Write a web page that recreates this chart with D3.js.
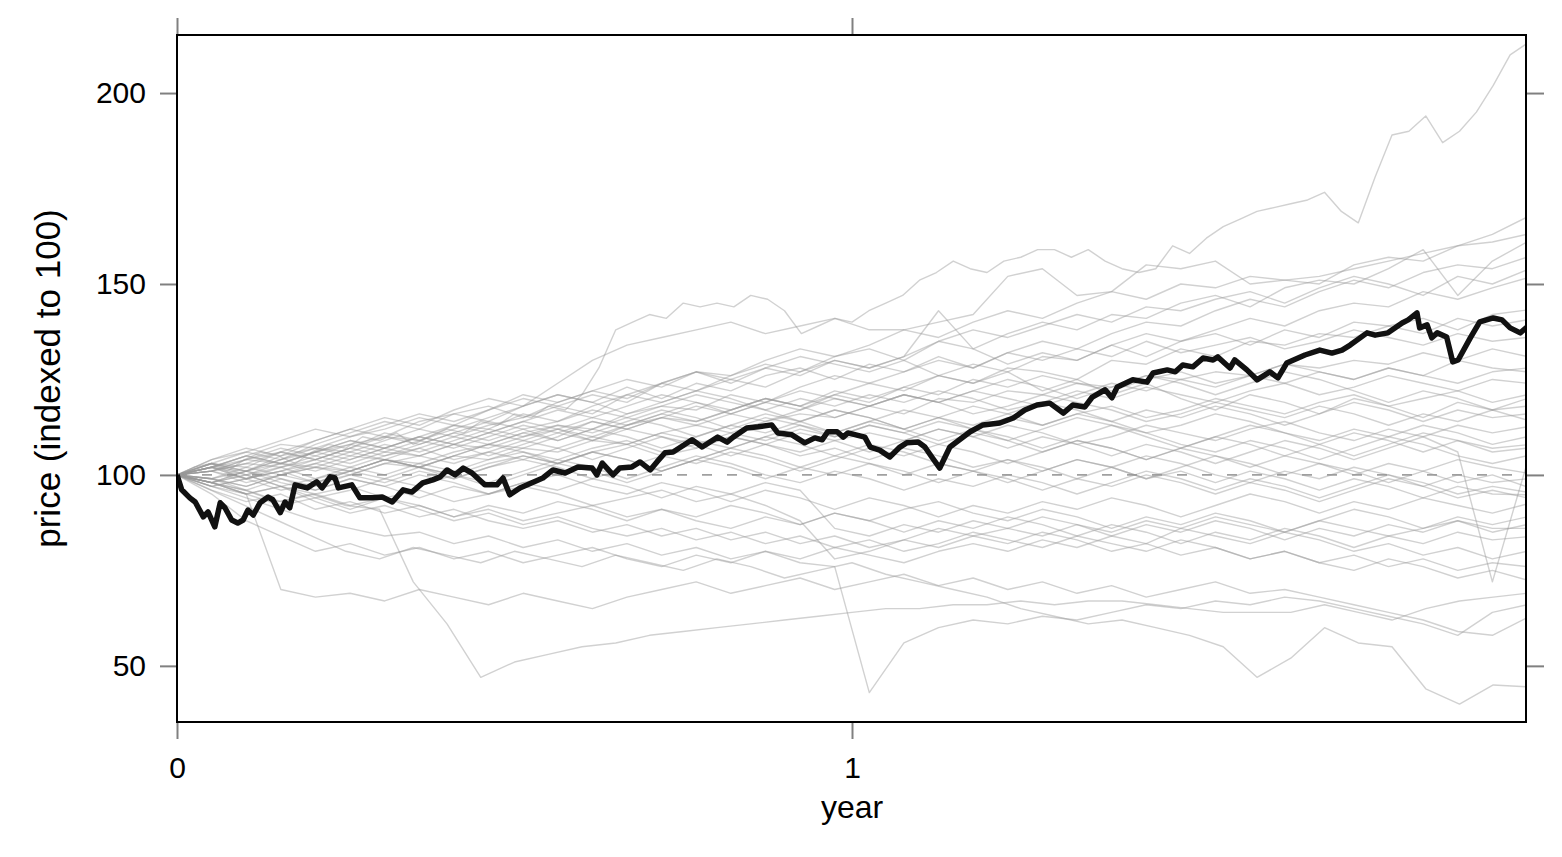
<!DOCTYPE html>
<html>
<head>
<meta charset="utf-8">
<script src="https://cdn.jsdelivr.net/npm/d3@7"></script>
<style>
  body { margin: 0; background: #fff; }
  text { font-family: "Liberation Sans", Arial, Helvetica, sans-serif; fill: #000; }
</style>
</head>
<body>
<div id="chart"></div>
<script>
// axis ticks
var xTicks = [0, 1]
var yTicks = [50, 100, 150, 200]
var xLabel = "year"
var yLabel = "price (indexed to 100)"
var baseLevel = 100

// highlighted path (read point by point)
var blackYears = [0.000,0.007,0.019,0.027,0.039,0.046,0.056,0.064,0.071,0.081,0.090,0.098,0.105,0.113,0.123,0.135,0.142,0.153,0.160,0.167,
  0.175,0.193,0.207,0.215,0.227,0.234,0.239,0.259,0.271,0.290,0.304,0.319,0.335,0.348,0.364,0.379,0.390,0.400,0.412,0.424,
  0.437,0.456,0.474,0.483,0.493,0.508,0.542,0.557,0.575,0.594,0.615,0.622,0.630,0.646,0.656,0.674,0.686,0.701,0.711,0.723,
  0.735,0.763,0.778,0.801,0.815,0.824,0.844,0.861,0.881,0.890,0.911,0.930,0.945,0.956,0.964,0.978,0.987,0.994,1.019,1.027,
  1.041,1.056,1.071,1.081,1.098,1.108,1.119,1.130,1.145,1.175,1.194,1.219,1.239,1.256,1.274,1.293,1.313,1.327,1.345,1.356,
  1.375,1.385,1.393,1.416,1.437,1.446,1.467,1.479,1.490,1.505,1.520,1.535,1.542,1.560,1.567,1.585,1.600,1.619,1.631,1.644,
  1.671,1.693,1.711,1.726,1.738,1.763,1.775,1.794,1.815,1.824,1.837,1.841,1.852,1.859,1.867,1.881,1.890,1.898,1.916,1.930,
  1.950,1.963,1.975,1.990,2.000]
var blackValues = [100.0,96.1,94.0,92.9,89.0,90.3,86.4,92.7,91.4,88.2,87.4,88.2,90.8,89.5,92.7,94.2,93.5,90.1,92.9,91.4,
  97.4,96.6,98.2,96.6,99.5,99.2,96.6,97.4,94.0,94.0,94.2,92.9,96.1,95.5,97.9,98.7,99.5,101.3,100.0,101.8,
  100.5,97.4,97.4,99.2,94.8,96.6,99.2,101.3,100.5,102.1,101.8,100.0,103.1,100.0,101.8,102.1,103.4,101.3,103.4,105.8,
  106.0,109.2,107.3,109.9,108.6,109.9,112.3,112.6,113.1,111.0,110.5,108.4,109.7,109.2,111.3,111.3,109.9,111.0,109.9,107.3,
  106.5,104.7,107.3,108.4,108.6,107.3,104.5,101.8,107.3,111.3,113.1,113.6,114.9,117.0,118.3,118.8,116.2,118.3,117.8,120.4,
  122.3,120.2,123.0,124.9,124.3,126.7,127.5,127.0,128.8,128.3,130.6,130.1,130.9,128.0,130.1,127.5,124.9,127.0,125.4,129.3,
  131.4,132.7,131.9,132.7,134.0,137.2,136.6,137.2,139.8,140.6,142.4,138.5,139.3,135.9,137.2,136.1,129.6,130.1,135.9,140.1,
  141.1,140.6,138.5,137.2,138.7]

// simulated paths, equally spaced over the two years
var simPaths = [
  [100,102,103,101,104,106,105,103,106,108, 107,110,109,111,108,110,112,111,114,113,
   116,115,118,117,121,128,138,140,142,141, 145,144,145,144,147,146,143,137,139,141,
   140,143,145,147,151,153,156,154,153,156, 157,159,159,157,159,156,154,153,154,160,
   158,162,165,167,169,170,171,172,174,169, 166,178,189,190,194,187,190,195,202,210, 213],
  [100,102,104,103,106, 108,110,109,112,115, 118,124,130,134,136, 138,140,137,139,141, 138,138,140,142,152, 154,147,148,155,154, 156,150,151,152,154, 156,158,160,163,167.5],
  [100,103,101,105,107, 106,109,112,110,113, 115,118,121,119,124, 127,126,130,133,131, 134,138,136,140,143, 141,145,148,146,150, 149,152,151,150,155, 157,156,160,161,163],
  [100,101,104,106,104, 107,111,109,113,112, 116,114,118,121,119, 122,125,123,127,130, 128,131,135,133,137, 140,138,142,141,145, 147,144,149,151,150, 154,159,147,156,161],
  [100,98,101,103,102, 105,104,107,110,108, 111,113,112,116,118, 117,121,119,123,126, 124,127,130,128,132, 135,133,137,140,139, 143,146,144,148,151, 149,153,155,154,157],
  [100,102,105,108,107, 110,112,115,113,117, 120,118,116,121,124, 122,126,129,127,131, 133,130,135,138,136, 139,142,140,144,143, 146,148,145,149,152, 150,147,152,150,153.7],
  [100,99,97,100,102, 101,104,103,106,108, 107,110,114,112,115, 118,116,119,117,121, 124,122,126,129,127, 131,130,134,137,135, 138,141,139,143,145, 144,148,146,149,151.6],
  [100,104,106,109,112, 110,113,116,114,117, 121,119,122,125,123, 127,124,128,126,130, 128,131,143,133,129, 132,130,134,131,135, 137,134,138,136,140, 139,141,138,142,143.2],
  [100,101,99,102,105, 103,106,105,108,107, 110,112,109,113,115, 114,117,120,118,121, 119,123,126,124,128, 127,125,130,129,133, 131,135,134,137,136, 139,137,141,139,140.6],
  [100,103,102,106,109, 112,110,114,116,114, 118,121,119,123,120, 124,122,126,128,125, 129,127,131,128,132, 130,133,131,135,132, 134,136,133,135,138, 136,134,137,135,136],
  [100,97,99,101,98, 100,103,102,105,104, 107,106,109,108,111, 113,111,114,116,115, 118,116,120,119,122, 121,124,123,126,125, 127,126,129,128,130, 129,132,130,133,131],
  [100,102,100,103,106, 104,107,110,108,111, 114,112,110,113,116, 119,117,120,118,122, 120,123,121,125,123, 126,124,122,125,127, 124,126,129,127,125, 128,126,130,128,127],
  [100,101,103,102,104, 107,105,108,111,109, 112,114,117,115,118, 121,119,117,120,118, 121,119,122,120,117, 119,122,120,123,121, 119,122,124,121,123, 126,124,122,125,124],
  [100,98,100,97,99, 102,100,103,101,104, 106,104,107,109,106, 108,111,109,112,110, 113,111,114,112,115, 113,116,118,115,117, 120,118,116,119,121, 118,120,122,119,121],
  [100,103,106,104,108, 111,114,112,116,118, 115,119,122,120,124, 127,125,128,131,129, 127,130,126,124,127, 122,125,121,124,120, 117,121,119,116,120, 118,115,119,117,118],
  [100,102,101,104,106, 109,107,110,113,111, 114,117,115,118,121, 119,116,119,122,120, 118,121,119,116,118, 121,119,117,114,116, 119,117,115,118,116, 113,116,114,117,114.4],
  [100,99,102,100,98, 101,104,102,100,103, 105,103,106,108,105, 107,110,108,106,109, 111,109,112,110,113, 111,108,110,113,111, 109,112,114,111,109, 112,110,113,111,112.6],
  [100,104,107,105,109, 112,115,113,117,120, 118,121,119,116,119, 122,120,117,114,117, 115,112,115,118,116, 113,116,114,111,113, 116,114,111,109,112, 110,113,111,108,110],
  [100,98,96,99,97, 100,98,101,99,102, 104,102,99,102,105, 103,106,104,101,104, 107,105,108,106,103, 106,109,107,104,107, 110,108,105,108,111, 109,106,109,107,107.9],
  [100,101,103,106,104, 107,110,108,111,114, 112,109,112,115,113, 110,113,116,114,111, 114,117,115,112,109, 112,115,113,110,107, 110,113,111,108,105, 108,111,109,106,107],
  [100,102,99,101,104, 102,105,107,104,106, 109,107,104,107,110, 108,105,108,111,109, 106,109,112,110,107, 110,108,105,108,106, 103,106,109,107,104, 107,110,106,72,103],
  [100,97,99,96,98, 101,99,102,100,97, 100,103,101,98,101, 104,102,99,102,105, 103,100,103,101,98, 101,104,102,99,102, 105,103,100,103,101, 98,101,104,102,100.5],
  [100,103,101,104,107, 105,108,106,109,112, 110,113,111,114,117, 115,112,115,113,110, 113,111,108,111,109, 106,109,107,104,107, 105,102,105,103,100, 103,101,98,100,96.9],
  [100,98,95,97,94, 96,99,97,100,98, 101,104,102,99,102, 105,103,100,98,101, 99,96,99,97,100, 98,95,98,101,99, 96,99,97,94,97, 100,98,95,97,95.5],
  [100,102,105,103,106, 109,107,110,108,105, 108,111,109,112,110, 107,110,108,105,107, 104,107,105,102,104, 101,104,102,99,101, 98,101,99,96,99, 97,94,97,95,94.8],
  [100,101,98,100,103, 101,104,102,99,102, 105,103,106,104,101, 104,107,105,102,100, 103,101,98,101,99, 96,99,97,100,98, 95,98,96,93,96, 99,97,94,96,94],
  [100,99,101,98,96, 99,97,94,97,95, 98,100,97,95,98, 96,93,96,94,91, 94,92,89,92,90, 93,91,94,92,89, 92,95,93,90,93, 91,94,92,90,92.4],
  [100,97,95,92,94, 91,94,92,89,92, 90,93,91,88,91, 89,92,90,87,90, 88,91,93,90,88, 91,89,86,89,87, 90,88,85,88,91, 89,86,89,87,89],
  [100,98,101,99,96, 99,97,100,98,95, 98,96,99,97,94, 97,95,98,96,86, 84,87,85,88,86, 89,87,84,87,85, 88,86,83,86,84, 87,85,88,86,86],
  [100,96,93,95,91, 93,90,92,89,91, 88,90,92,89,91, 88,86,89,87,90, 88,85,88,86,89, 87,84,87,85,82, 85,83,86,84,81, 84,82,85,83,83.8],
  [100,95,88,84,80, 82,79,81,78,80, 77,79,81,78,76, 79,77,80,78,81, 79,77,80,82,80, 83,81,84,82,86, 84,82,85,83,80, 82,79,81,78,80],
  [100,99,96,93,95, 92,94,91,88,90, 87,89,86,84,86, 83,85,82,84,81, 83,80,82,85,83, 81,84,82,80,83, 81,78,80,77,79, 76,78,75,77,76],
  [100,98,95,97,93, 90,92,89,91,88, 86,88,85,87,84, 86,83,85,82,84, 81,83,86,84,82, 85,83,80,82,79, 81,78,80,77,75, 78,76,73,75,72.5],
  [100,98,96,93,95, 92,91,72,61,47, 51,53,55,56,58, 59,60,61,62,63, 64,65,65,66,66, 67,66,67,67,66, 65,64,64,64,66, 64,62,65,67,68, 69],
  [100,98,95,70,68, 69,67,70,68,66, 69,67,65,68,70, 72,69,71,73,70, 72,74,71,73,70, 72,69,71,68,70, 72,69,70,68,66, 64,62,59,58,62.6],
  [100,97,94,91,88, 86,84,85,82,84, 81,83,80,82,79, 81,78,80,77,76, 43,56,60,62,61, 63,62,64,66,65, 67,66,68,67,65, 63,61,58,64,66],
  [100,96,92,88,84, 80,78,81,79,77, 80,78,76,79,77, 75,78,76,73,75, 77,74,72,70,68, 65,63,61,62,60, 58,55,47,52,60, 56,55,44,40,45, 44.5],
  [100,102,105,103,101, 104,107,105,108,111, 109,112,115,113,116, 114,117,120,118,115, 118,121,119,122,125, 123,120,123,126,124, 121,124,127,125,122, 119,122,120,117,120],
  [100,99,97,100,102, 100,103,105,103,106, 104,107,110,108,111, 109,107,110,113,111, 114,112,109,112,110, 107,110,113,111,108, 106,109,107,104,107, 110,108,105,103,105],
  [100,103,100,102,99, 101,104,102,105,108, 106,103,106,104,101, 104,107,110,108,105, 108,106,103,101,104, 102,99,102,105,103, 100,98,101,99,102, 100,97,100,98,99],
  [100,101,104,107,105, 108,106,109,107,110, 113,111,114,112,115, 113,116,114,117,120, 118,121,119,122,120, 118,121,124,122,125, 123,126,124,127,125, 128,126,124,127,128],
  [100,98,100,97,95, 97,94,96,93,95, 97,95,92,94,96, 93,95,92,88,78, 80,83,81,84,86, 84,87,85,88,86, 89,87,85,88,86, 84,86,88,85,87],
  [100,102,99,101,103, 106,104,102,105,108, 111,109,112,110,107, 110,113,111,114,117, 115,112,115,113,116, 119,117,114,117,115, 118,116,113,116,119, 117,114,117,115,116]
]

var width = 1562, height = 857
var plotLeft = 177, plotRight = 1527, plotTop = 35, plotBottom = 722

var x = d3.scaleLinear().domain([0, 2]).range([plotLeft, plotRight])
var y = d3.scaleLinear().domain([35.3, 215.2]).range([plotBottom, plotTop])

var svg = d3.select("#chart").append("svg")
    .attr("width", width)
    .attr("height", height)

svg.append("defs").append("clipPath")
    .attr("id", "plotclip")
    .append("rect")
    .attr("x", plotLeft).attr("y", plotTop)
    .attr("width", plotRight - plotLeft).attr("height", plotBottom - plotTop)

var plot = svg.append("g").attr("clip-path", "url(#plotclip)")

// reference line at 100
plot.append("line")
    .attr("x1", plotLeft).attr("x2", plotRight)
    .attr("y1", y(baseLevel)).attr("y2", y(baseLevel))
    .attr("stroke", "#a0a0a0")
    .attr("stroke-width", 1.8)
    .attr("stroke-dasharray", "10,15")

var simLine = d3.line()
    .x(function (d, i, arr) { return x(i * 2 / (arr.length - 1)) })
    .y(function (d) { return y(d) })

plot.append("g")
    .selectAll("path")
    .data(simPaths)
    .enter().append("path")
    .attr("d", function (d) { return simLine(d) })
    .attr("fill", "none")
    .attr("stroke", "#9a9a9a")
    .attr("stroke-opacity", 0.45)
    .attr("stroke-width", 1.4)
    .attr("stroke-linejoin", "round")

var blackLine = d3.line()
    .x(function (d, i) { return x(blackYears[i]) })
    .y(function (d) { return y(d) })

plot.append("path")
    .attr("d", blackLine(blackValues))
    .attr("fill", "none")
    .attr("stroke", "#111")
    .attr("stroke-width", 5.5)
    .attr("stroke-linejoin", "round")

// axes, ticks on all four sides, labels on left and bottom only
function styleAxis(g) {
    g.select(".domain").remove()
    g.selectAll(".tick line").attr("stroke", "#808080").attr("stroke-width", 2)
    g.selectAll(".tick text")
        .style("font-family", '"Liberation Sans", Arial, sans-serif')
        .style("font-size", "30px")
        .attr("fill", "#000")
}

svg.append("g")
    .attr("transform", "translate(" + plotLeft + ",0)")
    .call(d3.axisLeft(y).tickValues(yTicks).tickSize(17).tickPadding(14))
    .call(styleAxis)

svg.append("g")
    .attr("transform", "translate(" + plotRight + ",0)")
    .call(d3.axisRight(y).tickValues(yTicks).tickSize(17).tickFormat(""))
    .call(styleAxis)

svg.append("g")
    .attr("transform", "translate(0," + plotBottom + ")")
    .call(d3.axisBottom(x).tickValues(xTicks).tickSize(17).tickPadding(18).tickFormat(d3.format("d")))
    .call(styleAxis)

svg.append("g")
    .attr("transform", "translate(0," + plotTop + ")")
    .call(d3.axisTop(x).tickValues(xTicks).tickSize(17).tickFormat(""))
    .call(styleAxis)

// frame
svg.append("rect")
    .attr("x", plotLeft).attr("y", plotTop)
    .attr("width", plotRight - 1 - plotLeft).attr("height", plotBottom - plotTop)
    .attr("fill", "none")
    .attr("stroke", "#000")
    .attr("stroke-width", 2)

svg.append("text")
    .attr("x", (plotLeft + plotRight) / 2)
    .attr("y", 818)
    .attr("text-anchor", "middle")
    .style("font-size", "32px")
    .text(xLabel)

svg.append("text")
    .attr("transform", "translate(60," + (plotTop + plotBottom) / 2 + ") rotate(-90)")
    .attr("text-anchor", "middle")
    .style("font-size", "35px")
    .text(yLabel)
</script>
</body>
</html>
